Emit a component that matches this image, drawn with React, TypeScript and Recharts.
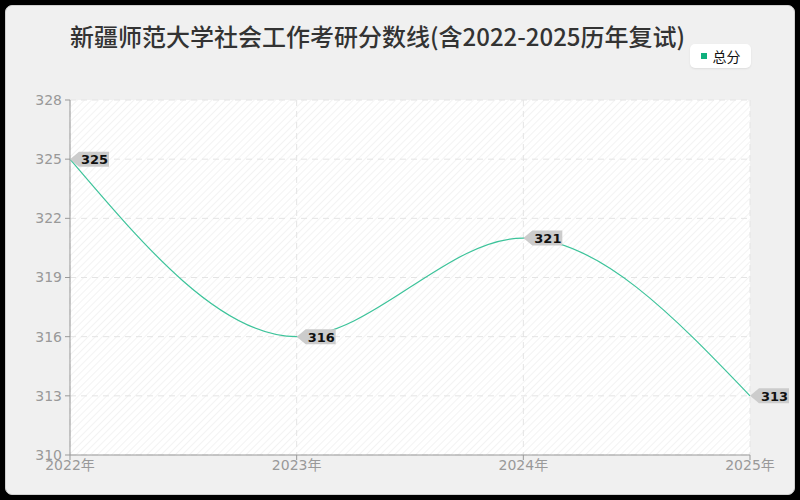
import { LineChart, Line, XAxis, YAxis, CartesianGrid } from 'recharts';

const years = ['2022年', '2023年', '2024年', '2025年'];
const totalScores = [325, 316, 321, 313];
const yTicks = [310, 313, 316, 319, 322, 325, 328];

const data = years.map((year, i) => ({ year, total: totalScores[i] }));

const LINE_COLOR = '#3cc39a';
const FONT = '"Noto Sans CJK SC", "Noto Sans", sans-serif';
const TICK_FONT = '"DejaVu Sans", "Noto Sans CJK SC", sans-serif';

const TagLabel = (props: any) => {
    const { x, y, value } = props;
    if (x == null || y == null) return null;
    const w = 39;
    const h = 15;
    return (
        <g>
            <path
                d={`M${x},${y} L${x + 9},${y - h / 2} L${x + w},${y - h / 2} L${x + w},${y + h / 2} L${x + 9},${y + h / 2} Z`}
                fill="#cccccc"
            />
            <text
                x={x + 11}
                y={y + 0.5}
                dominantBaseline="central"
                fontSize={13}
                fontWeight="bold"
                fontFamily="DejaVu Sans, sans-serif"
                fill="#111"
            >
                {value}
            </text>
        </g>
    );
};

export default function App() {
    return (
        <div style={{ position: 'absolute', left: 0, top: 0, width: 800, height: 500, background: '#000' }}>
            <svg width="0" height="0" style={{ position: 'absolute' }}>
                <defs>
                    <pattern id="hatch" width="5" height="5" patternUnits="userSpaceOnUse" patternTransform="rotate(45)">
                        <rect width="5" height="5" fill="#ffffff" />
                        <line x1="0" y1="0" x2="0" y2="5" stroke="#efefef" strokeWidth="1.5" />
                    </pattern>
                </defs>
            </svg>
            <div
                style={{
                    position: 'absolute',
                    left: 5,
                    top: 5,
                    width: 788,
                    height: 488,
                    background: '#f0f0f0',
                    borderRadius: 7,
                    border: '1px solid #d0d0d0',
                }}
            />
            <div
                style={{
                    position: 'absolute',
                    left: 70,
                    top: 18,
                    fontSize: 24,
                    fontWeight: 500,
                    fontFamily: FONT,
                    color: '#333',
                    whiteSpace: 'nowrap',
                }}
            >
                新疆师范大学社会工作考研分数线(含2022-2025历年复试)
            </div>
            <div
                style={{
                    position: 'absolute',
                    left: 690,
                    top: 44,
                    width: 61,
                    height: 24,
                    background: '#fff',
                    borderRadius: 5,
                    fontSize: 14,
                    fontFamily: FONT,
                    color: '#111',
                    display: 'flex',
                    alignItems: 'center',
                    justifyContent: 'center',
                    boxShadow: '0 1px 2px rgba(0,0,0,0.08)',
                }}
            >
                <span style={{ width: 6, height: 6, background: '#10b07d', display: 'inline-block', marginRight: 6 }} />
                总分
            </div>
            <div style={{ position: 'absolute', left: 0, top: 0 }}>
                <LineChart width={800} height={500} data={data} margin={{ top: 100, right: 50, bottom: 0, left: 0 }}>
                    <CartesianGrid
                        strokeDasharray="6 5"
                        stroke="#e4e4e4"
                        fill="url(#hatch)"
                        fillOpacity={1}
                    />
                    <XAxis
                        dataKey="year"
                        tick={{ fill: '#999', fontSize: 14, fontFamily: TICK_FONT }}
                        tickLine={{ stroke: '#999' }}
                        axisLine={{ stroke: '#999' }}
                        tickSize={5}
                        tickMargin={0}
                        interval={0}
                        height={45}
                    />
                    <YAxis
                        width={70}
                        domain={[310, 328]}
                        ticks={yTicks}
                        interval={0}
                        tick={{ fill: '#999', fontSize: 14, fontFamily: TICK_FONT }}
                        tickLine={{ stroke: '#999' }}
                        axisLine={{ stroke: '#999' }}
                        tickSize={5}
                        tickMargin={3}
                    />
                    <Line
                        type="monotone"
                        dataKey="total"
                        name="总分"
                        stroke={LINE_COLOR}
                        strokeWidth={1.2}
                        dot={false}
                        activeDot={false}
                        isAnimationActive={false}
                        label={<TagLabel />}
                    />
                </LineChart>
            </div>
        </div>
    );
}
